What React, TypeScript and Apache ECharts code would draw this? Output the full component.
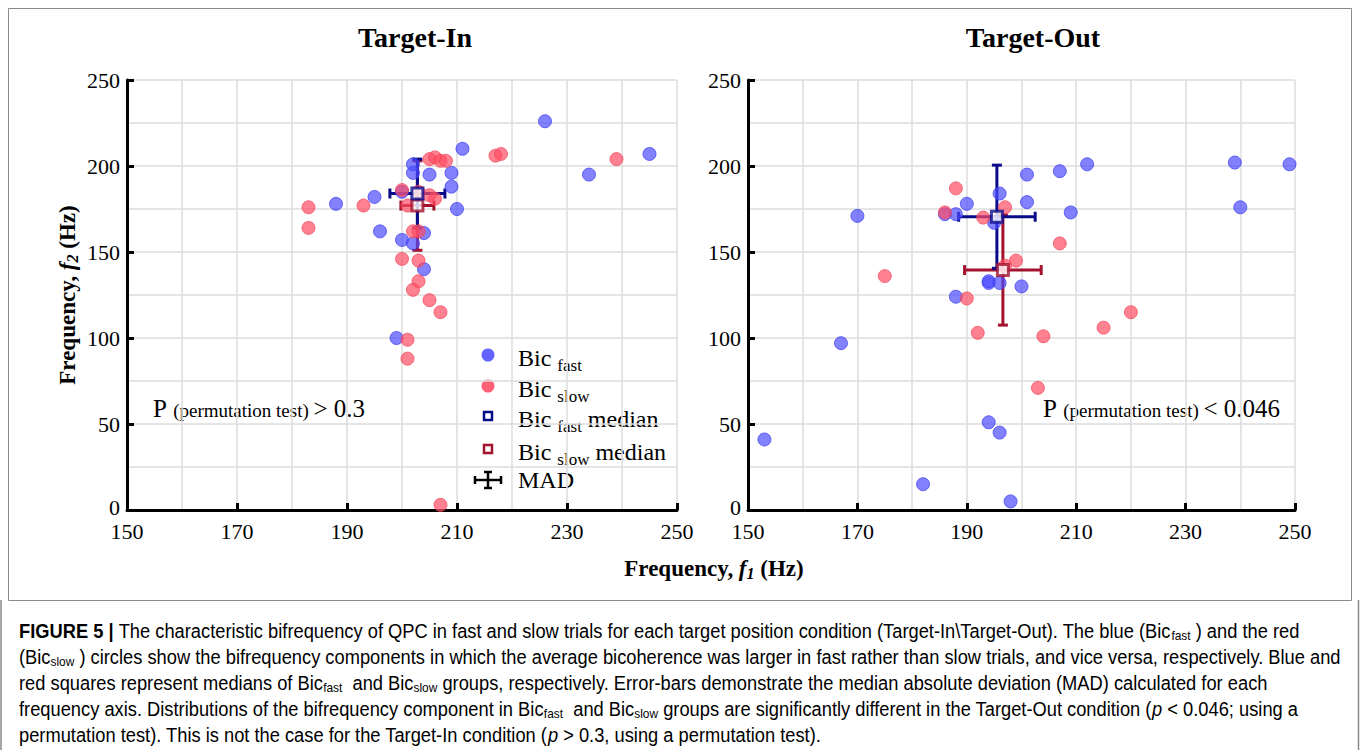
import React, { useEffect, useRef } from 'react';
import * as echarts from 'echarts';

// ---------------- data ----------------
// [f1 (Hz), f2 (Hz)]
const targetInFast: number[][] = [
  [226, 226], [245, 207], [234, 195], [211, 210], [188, 178], [195, 182], [196, 162],
  [200, 157], [199, 100], [202, 201], [202, 196], [205, 195], [209, 196], [209, 188],
  [210, 175], [202, 155], [204, 161], [204, 140], [200, 185],
];
const targetInSlow: number[][] = [
  [183, 176], [183, 164], [193, 177], [200, 186], [201, 177], [202, 162], [200, 146],
  [203, 145], [203, 133], [202, 128], [205, 122], [207, 115], [201, 99], [201, 88],
  [207, 3], [217, 206], [218, 207], [239, 204], [205, 204], [206, 205], [207, 203],
  [208, 203], [203, 185], [205, 183], [206, 181], [203, 162],
];
const targetOutFast: number[][] = [
  [153, 41], [167, 97], [170, 171], [182, 15], [194, 51], [196, 45], [198, 5],
  [186, 172], [188, 172], [190, 178], [196, 184], [195, 167], [201, 195], [201, 179],
  [188, 124], [194, 132], [194, 133], [196, 132], [200, 130], [207, 197], [212, 201],
  [239, 202], [249, 201], [209, 173], [240, 176],
];
const targetOutSlow: number[][] = [
  [188, 187], [186, 173], [193, 170], [197, 176], [197, 142], [199, 145], [175, 136],
  [190, 123], [192, 103], [207, 155], [220, 115], [215, 106], [204, 101], [203, 71],
];
// medians with MAD: [f1, f2, MAD f1, MAD f2]
const targetInFastMedian: number[][] = [[202.8, 184, 5, 20]];
const targetInSlowMedian: number[][] = [[202.8, 177, 3, 26]];
const targetOutFastMedian: number[][] = [[195.5, 170.5, 7, 30]];
const targetOutSlowMedian: number[][] = [[196.6, 139.5, 7, 32]];

const panelTitles = ['Target-In', 'Target-Out'];
const pValueTexts = ['> 0.3', '< 0.046'];
const X_MIN = 150, X_MAX = 250, X_STEP = 20;
const Y_MIN = 0, Y_MAX = 250, Y_STEP = 50;

// ---------------- styles ----------------
const SERIF = "'Liberation Serif', 'Times New Roman', serif";
const SANS = "'Liberation Sans', Arial, sans-serif";
const BLUE = 'rgba(75,75,255,0.87)';
const RED = 'rgba(255,75,98,0.87)';
const NAVY = '#0b0b8a';
const CRIMSON = '#a3122e';
const GRID = '#dcdcdc';

function makeX(gridIndex: number) {
  return {
    gridIndex, type: 'value', min: X_MIN, max: X_MAX, interval: X_STEP,
    axisLine: { show: true, onZero: false, lineStyle: { color: '#000', width: 3 } },
    axisTick: { show: true, inside: true, length: 7, lineStyle: { color: '#000', width: 3 } },
    axisLabel: { color: '#000', fontFamily: SERIF, fontSize: 22, lineHeight: 18, margin: 12 },
    splitLine: { show: true, lineStyle: { color: GRID, width: 1.5 } },
    minorTick: { show: false, splitNumber: 2 },
    minorSplitLine: { show: true, lineStyle: { color: GRID, width: 1.5 } },
  };
}
function makeY(gridIndex: number) {
  return {
    gridIndex, type: 'value', min: Y_MIN, max: Y_MAX, interval: Y_STEP,
    axisLine: { show: true, onZero: false, lineStyle: { color: '#000', width: 3 } },
    axisTick: { show: true, inside: true, length: 7, lineStyle: { color: '#000', width: 3 } },
    axisLabel: {
      color: '#000', fontFamily: SERIF, fontSize: 22, lineHeight: 16, margin: 7,
      formatter: (v: number) => (v === Y_MIN ? '{z|' + v + '}' : String(v)),
      rich: { z: { color: '#000', fontFamily: SERIF, fontSize: 22, lineHeight: 16, padding: [0, 0, 6, 0] } },
    },
    splitLine: { show: true, lineStyle: { color: GRID, width: 1.5 } },
    minorTick: { show: false, splitNumber: 2 },
    minorSplitLine: { show: true, lineStyle: { color: GRID, width: 1.5 } },
  };
}

function renderErrorBar(params: any, api: any) {
  const x = api.value(0), y = api.value(1), mx = api.value(2), my = api.value(3);
  const l = api.coord([x - mx, y]);
  const r = api.coord([x + mx, y]);
  const t = api.coord([x, y + my]);
  const b = api.coord([x, y - my]);
  const color = api.visual('color');
  const st = { stroke: color, lineWidth: 3 };
  const cap = 5;
  const ln = (x1: number, y1: number, x2: number, y2: number) => ({
    type: 'line', shape: { x1, y1, x2, y2 }, style: st,
  });
  return {
    type: 'group',
    children: [
      ln(l[0], l[1], r[0], r[1]),
      ln(t[0], t[1], b[0], b[1]),
      ln(l[0], l[1] - cap, l[0], l[1] + cap),
      ln(r[0], r[1] - cap, r[0], r[1] + cap),
      ln(t[0] - cap, t[1], t[0] + cap, t[1]),
      ln(b[0] - cap, b[1], b[0] + cap, b[1]),
    ],
  };
}

function panelSeries(idx: number, fast: number[][], slow: number[][], fm: number[][], sm: number[][]) {
  const ax = { xAxisIndex: idx, yAxisIndex: idx };
  const dot = (data: number[][], color: string, border: string) => ({
    type: 'scatter', ...ax, data, symbol: 'circle', symbolSize: 13,
    itemStyle: { color, borderColor: border, borderWidth: 1 },
  });
  const bar = (data: number[][], color: string) => ({
    type: 'custom', ...ax, data, renderItem: renderErrorBar, encode: { x: 0, y: 1 },
    itemStyle: { color },
  });
  const sq = (data: number[][], color: string) => ({
    type: 'scatter', ...ax, data: data.map((d) => [d[0], d[1]]), symbol: 'rect', symbolSize: 11,
    itemStyle: { color: '#fff', borderColor: color, borderWidth: 3 },
  });
  return [
    dot(fast, BLUE, 'rgba(60,60,240,0.9)'),
    dot(slow, RED, 'rgba(240,70,90,0.9)'),
    bar(sm, CRIMSON),
    bar(fm, NAVY),
    sq(sm, CRIMSON),
    sq(fm, NAVY),
  ];
}

const legendRich = {
  m: { fontFamily: SERIF, fontSize: 24, color: '#000' },
  s: { fontFamily: SERIF, fontSize: 17, color: '#000', padding: [14, 0, 0, 0] },
};

function legendGraphics() {
  const lx = 488, tx = 518;
  const rows = [355, 386, 416, 449, 480];
  const items: any[] = [
    { type: 'circle', shape: { cx: lx, cy: rows[0], r: 6.5 }, style: { fill: BLUE } },
    { type: 'circle', shape: { cx: lx, cy: rows[1], r: 6.5 }, style: { fill: RED } },
    { type: 'rect', shape: { x: lx - 4, y: rows[2] - 4, width: 8, height: 8 }, style: { fill: '#fff', stroke: NAVY, lineWidth: 2.5 } },
    { type: 'rect', shape: { x: lx - 4, y: rows[3] - 4, width: 8, height: 8 }, style: { fill: '#fff', stroke: CRIMSON, lineWidth: 2.5 } },
  ];
  const k = { stroke: '#000', lineWidth: 2.5 };
  const my = rows[4];
  items.push(
    { type: 'line', shape: { x1: lx - 13, y1: my, x2: lx + 13, y2: my }, style: k },
    { type: 'line', shape: { x1: lx, y1: my - 8, x2: lx, y2: my + 8 }, style: k },
    { type: 'line', shape: { x1: lx - 13, y1: my - 4, x2: lx - 13, y2: my + 4 }, style: k },
    { type: 'line', shape: { x1: lx + 13, y1: my - 4, x2: lx + 13, y2: my + 4 }, style: k },
    { type: 'line', shape: { x1: lx - 4, y1: my - 8, x2: lx + 4, y2: my - 8 }, style: k },
    { type: 'line', shape: { x1: lx - 4, y1: my + 8, x2: lx + 4, y2: my + 8 }, style: k },
  );
  const texts = [
    '{m|Bic }{s|fast}',
    '{m|Bic }{s|slow}',
    '{m|Bic }{s|fast}{m| median}',
    '{m|Bic }{s|slow}{m| median}',
    '{m|MAD}',
  ];
  texts.forEach((t, i) => {
    items.push({
      type: 'text', x: tx, y: rows[i] + (i < 4 ? 3 : 0),
      style: { text: t, rich: legendRich, align: 'left', verticalAlign: 'middle' },
    });
  });
  return items;
}

const pRich = {
  big: { fontFamily: SERIF, fontSize: 25, color: '#000', verticalAlign: 'bottom' },
  small: { fontFamily: SERIF, fontSize: 19, color: '#000', verticalAlign: 'bottom', padding: [0, 0, 1, 0] },
};

const axisNameRich = {
  b: { fontFamily: SERIF, fontSize: 23, fontWeight: 'bold', color: '#000' },
  i: { fontFamily: SERIF, fontSize: 23, fontWeight: 'bold', fontStyle: 'italic', color: '#000' },
  sub: { fontFamily: SERIF, fontSize: 16, fontWeight: 'bold', fontStyle: 'italic', color: '#000', padding: [11, 0, 0, 0] },
};

const CAP_COLOR = '#2e2e2e';
const capRich = {
  n: { fontFamily: SANS, fontSize: 20, color: CAP_COLOR },
  b: { fontFamily: SANS, fontSize: 20, color: CAP_COLOR, fontWeight: 'bold' },
  i: { fontFamily: SANS, fontSize: 20, color: CAP_COLOR, fontStyle: 'italic' },
  s: { fontFamily: SANS, fontSize: 13, color: CAP_COLOR, padding: [10, 0, 0, 0] },
};
const captionLines = [
  '{b|FIGURE 5 | }{n|The characteristic bifrequency of QPC in fast and slow trials for each target position condition (Target-In\\Target-Out). The blue (Bic}{s|fast}{n| ) and the red}',
  '{n|(Bic}{s|slow}{n| ) circles show the bifrequency components in which the average bicoherence was larger in fast rather than slow trials, and vice versa, respectively. Blue and}',
  '{n|red squares represent medians of Bic}{s|fast}{n|  and Bic}{s|slow}{n| groups, respectively. Error-bars demonstrate the median absolute deviation (MAD) calculated for each}',
  '{n|frequency axis. Distributions of the bifrequency component in Bic}{s|fast}{n|  and Bic}{s|slow}{n| groups are significantly different in the Target-Out condition (}{i|p}{n| < 0.046; using a}',
  '{n|permutation test). This is not the case for the Target-In condition (}{i|p}{n| > 0.3, using a permutation test).}',
];

export default function App() {
  const ref = useRef<HTMLDivElement>(null);
  useEffect(() => {
    if (!ref.current) return;
    const chart = echarts.init(ref.current, null, { renderer: 'svg' });
    const graphic: any[] = [
      { type: 'rect', shape: { x: 8.5, y: 8.5, width: 1343, height: 592 }, style: { fill: 'none', stroke: '#8a8a8a', lineWidth: 1 }, z: -1 },
      { type: 'line', shape: { x1: 1, y1: 600, x2: 1, y2: 750 }, style: { stroke: '#8a8a8a', lineWidth: 1.5 } },
      { type: 'line', shape: { x1: 1358.5, y1: 600, x2: 1358.5, y2: 750 }, style: { stroke: '#8a8a8a', lineWidth: 1.5 } },
      {
        type: 'text', x: 415, y: 37,
        style: { text: panelTitles[0], fontFamily: SERIF, fontSize: 28, fontWeight: 'bold', fill: '#000', align: 'center', verticalAlign: 'middle' },
      },
      {
        type: 'text', x: 1033, y: 37,
        style: { text: panelTitles[1], fontFamily: SERIF, fontSize: 28, fontWeight: 'bold', fill: '#000', align: 'center', verticalAlign: 'middle' },
      },
      {
        type: 'text', x: 67, y: 295, rotation: Math.PI / 2,
        style: { text: '{b|Frequency, }{i|f}{sub|2}{b| (Hz)}', rich: axisNameRich, align: 'center', verticalAlign: 'middle' },
      },
      {
        type: 'text', x: 714, y: 568,
        style: { text: '{b|Frequency, }{i|f}{sub|1}{b| (Hz)}', rich: axisNameRich, align: 'center', verticalAlign: 'middle' },
      },
      {
        type: 'text', x: 153, y: 421,
        style: { text: '{big|P }{small|(permutation test) }{big|' + pValueTexts[0] + '}', rich: pRich, align: 'left', verticalAlign: 'bottom' },
      },
      {
        type: 'text', x: 1043, y: 421,
        style: { text: '{big|P }{small|(permutation test) }{big|' + pValueTexts[1] + '}', rich: pRich, align: 'left', verticalAlign: 'bottom' },
      },
      ...legendGraphics(),
      ...captionLines.map((t, i) => ({
        type: 'text', x: 19, y: 631 + i * 26, scaleX: 0.915,
        style: { text: t, rich: capRich, align: 'left', verticalAlign: 'middle' },
      })),
    ];
    chart.setOption({
      animation: false,
      backgroundColor: '#fff',
      grid: [
        { left: 127, top: 80, width: 550, height: 430 },
        { left: 748, top: 80, width: 547, height: 430 },
      ],
      xAxis: [makeX(0), makeX(1)],
      yAxis: [makeY(0), makeY(1)],
      series: [
        ...panelSeries(0, targetInFast, targetInSlow, targetInFastMedian, targetInSlowMedian),
        ...panelSeries(1, targetOutFast, targetOutSlow, targetOutFastMedian, targetOutSlowMedian),
      ],
      graphic,
    });
    return () => chart.dispose();
  }, []);
  return <div ref={ref} style={{ position: 'absolute', left: 0, top: 0, width: 1360, height: 750 }} />;
}
